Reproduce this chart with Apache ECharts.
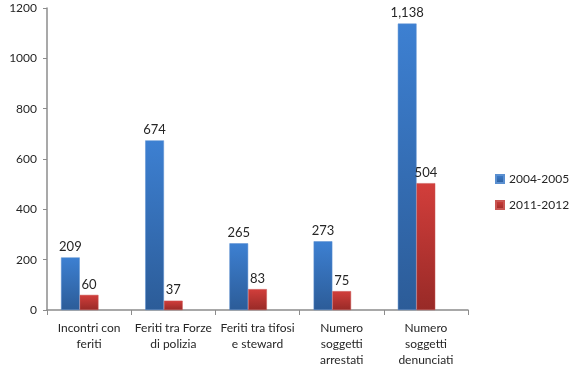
<!DOCTYPE html>
<html><head><meta charset="utf-8">
<script src="https://cdn.jsdelivr.net/npm/echarts@6/dist/echarts.min.js"></script>
<style>html,body{margin:0;padding:0;background:#fff}#c{width:576px;height:372px}</style>
</head><body><div id="c"></div>
<script>
const categories = ['Incontri con\nferiti', 'Feriti tra Forze\ndi polizia', 'Feriti tra tifosi\ne steward', 'Numero\nsoggetti\narrestati', 'Numero\nsoggetti\ndenunciati'];
const series2004 = [209, 674, 265, 273, 1138];
const series2011 = [60, 37, 83, 75, 504];
const seriesNames = ['2004-2005', '2011-2012'];
const yTicks = { min: 0, max: 1200, interval: 200 };

const font = 'Lato, "Liberation Sans", sans-serif';
function grad(top, bottom) {
  return new echarts.graphic.LinearGradient(0, 0, 0, 1, [{offset: 0, color: top}, {offset: 1, color: bottom}]);
}
const labelCfg = {
  show: true, position: 'top', distance: 4, color: '#262626', fontFamily: font, fontSize: 13,
  formatter: p => p.value.toLocaleString('en-US')
};
const chart = echarts.init(document.getElementById('c'));
chart.setOption({
  animation: false,
  grid: { left: 47, right: 108, top: 8, bottom: 62 },
  legend: {
    data: seriesNames, orient: 'vertical', left: 490, top: 168,
    itemWidth: 8, itemHeight: 8, itemGap: 14, icon: 'rect',
    textStyle: { fontFamily: font, fontSize: 12, color: '#262626' }
  },
  xAxis: {
    type: 'category', data: categories,
    axisLine: { lineStyle: { color: '#8c8c8c', width: 1.5 } },
    axisTick: { show: true, length: 5, lineStyle: { color: '#8c8c8c' } },
    axisLabel: { color: '#262626', fontFamily: font, fontSize: 12, lineHeight: 16, margin: 10, interval: 0 }
  },
  yAxis: {
    type: 'value', min: yTicks.min, max: yTicks.max, interval: yTicks.interval,
    splitLine: { show: false },
    axisLine: { show: true, lineStyle: { color: '#8c8c8c', width: 1.5 } },
    axisTick: { show: true, length: 4, lineStyle: { color: '#8c8c8c' } },
    axisLabel: { color: '#262626', fontFamily: font, fontSize: 12, margin: 10, formatter: v => String(v) }
  },
  series: [
    { name: seriesNames[0], type: 'bar', data: series2004, barGap: '0%', barCategoryGap: '33.3%',
      itemStyle: { color: grad('#3d80d2', '#2c5c98'), borderColor: '#5a8fd0', borderWidth: 0.5 },
      label: labelCfg },
    { name: seriesNames[1], type: 'bar', data: series2011, barGap: '0%', barCategoryGap: '33.3%',
      itemStyle: { color: grad('#d23e3b', '#982a27'), borderColor: '#c85552', borderWidth: 0.5 },
      label: labelCfg },
    { name: 'spacer', type: 'bar', data: categories.map(() => '-'), barGap: '0%', barCategoryGap: '33.3%' }
  ]
});
</script></body></html>
